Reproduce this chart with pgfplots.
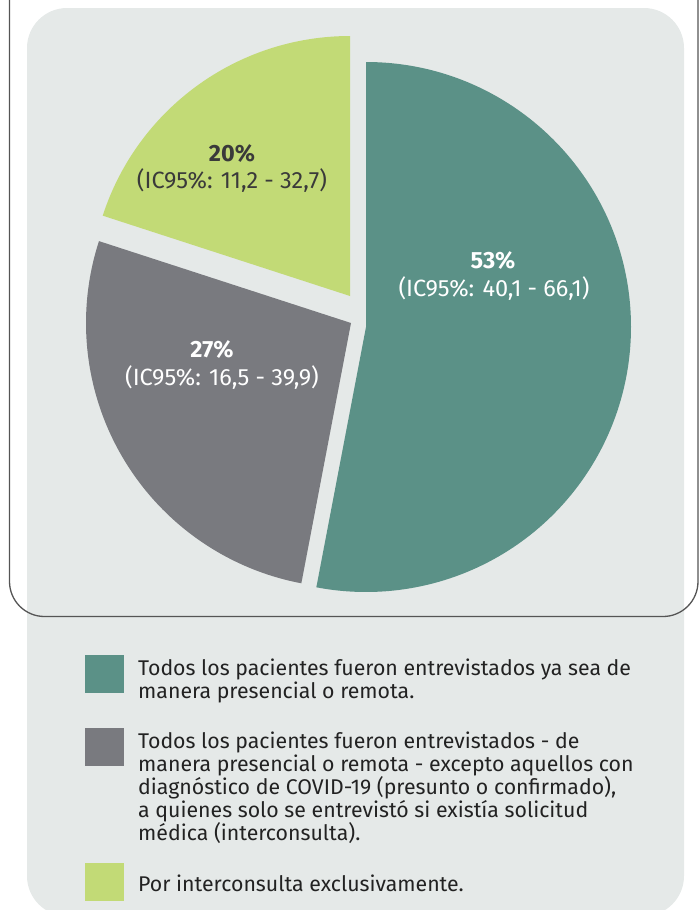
\documentclass[border=0pt]{standalone}
\usepackage{pgfplots}
\pgfplotsset{compat=1.18}
\usepackage{pgfplotstable}
\usepackage{fontspec}
\setmainfont{Fira Sans}
\definecolor{cteal}{HTML}{5B9187}
\definecolor{cgray}{HTML}{797A7F}
\definecolor{cgreen}{HTML}{C2DA76}
\definecolor{bgc}{HTML}{E5E9E8}
\definecolor{framec}{HTML}{555555}
\definecolor{txt}{HTML}{222222}
\definecolor{darktxt}{HTML}{3A3A3A}
\pgfplotstableread{
label value lo hi
A 53 40.1 66.1
B 27 16.5 39.9
C 20 11.2 32.7
}\datatable
\begin{document}
\begin{tikzpicture}
\useasboundingbox (0,0) rectangle (700bp,910bp);
\begin{axis}[at={(0,0)},anchor=south west, scale only axis, width=700bp, height=910bp,
  xmin=0,xmax=700,ymin=0,ymax=910, y dir=reverse, hide axis, clip=false]
\pgfplotstablegetelem{0}{value}\of\datatable \let\va\pgfplotsretval
\pgfplotstablegetelem{1}{value}\of\datatable \let\vb\pgfplotsretval
\pgfplotstablegetelem{2}{value}\of\datatable \let\vc\pgfplotsretval
\pgfmathsetmacro{\aZero}{90}
\pgfmathsetmacro{\aOne}{90-3.6*\va}
\pgfmathsetmacro{\aTwo}{\aOne-3.6*\vb}
\pgfmathsetmacro{\aThree}{\aTwo-3.6*\vc}
% background panel
\fill[bgc, rounded corners=40bp] (axis cs:27,8) rectangle (axis cs:684,916);
% frame
\draw[framec, line width=1.3bp, rounded corners=35bp] (axis cs:9.5,-10) -- (axis cs:9.5,616.5) -- (axis cs:698,616.5) -- (axis cs:698,-10);
% slices
\fill[cteal] (axis cs:366,327) -- ++(\aZero:265bp) arc[start angle=\aZero, end angle=\aOne, radius=265bp] -- cycle;
\fill[cgray] (axis cs:351,323) -- ++(\aOne:265bp) arc[start angle=\aOne, end angle=\aTwo, radius=265bp] -- cycle;
\fill[cgreen] (axis cs:350,296) -- ++(\aTwo:260bp) arc[start angle=\aTwo, end angle=\aThree, radius=260bp] -- cycle;
% slice labels
\node[white, font=\fontsize{23.5bp}{27bp}\selectfont\bfseries] at (axis cs:493,260) {53\%};
\node[white, font=\fontsize{23.5bp}{27bp}\selectfont] at (axis cs:494,289) {(IC95\%: 40,1 - 66,1)};
\node[white, font=\fontsize{23.5bp}{27bp}\selectfont\bfseries] at (axis cs:212,349) {27\%};
\node[white, font=\fontsize{23.5bp}{27bp}\selectfont] at (axis cs:222,378) {(IC95\%: 16,5 - 39,9)};
\node[darktxt, font=\fontsize{23.5bp}{27bp}\selectfont\bfseries] at (axis cs:232,153) {20\%};
\node[darktxt, font=\fontsize{23.5bp}{27bp}\selectfont] at (axis cs:232,181) {(IC95\%: 11,2 - 32,7)};
% legend
\fill[cteal] (axis cs:85,655) rectangle (axis cs:124,693);
\fill[cgray] (axis cs:85,728) rectangle (axis cs:124,766);
\fill[cgreen] (axis cs:85,863) rectangle (axis cs:124,901);
\begin{scope}[every node/.style={anchor=base west, inner sep=0pt, txt, font=\fontsize{21.3bp}{23bp}\selectfont}]
\node at (axis cs:138,675) {Todos los pacientes fueron entrevistados ya sea de};
\node at (axis cs:138,698) {manera presencial o remota.};
\node at (axis cs:138,748) {Todos los pacientes fueron entrevistados - de};
\node at (axis cs:138,771) {manera presencial o remota - excepto aquellos con};
\node at (axis cs:138,794) {diagnóstico de COVID-19 (presunto o confirmado),};
\node at (axis cs:138,817) {a quienes solo se entrevistó si existía solicitud};
\node at (axis cs:138,840) {médica (interconsulta).};
\node at (axis cs:138,891) {Por interconsulta exclusivamente.};
\end{scope}
\end{axis}
\end{tikzpicture}
\end{document}
